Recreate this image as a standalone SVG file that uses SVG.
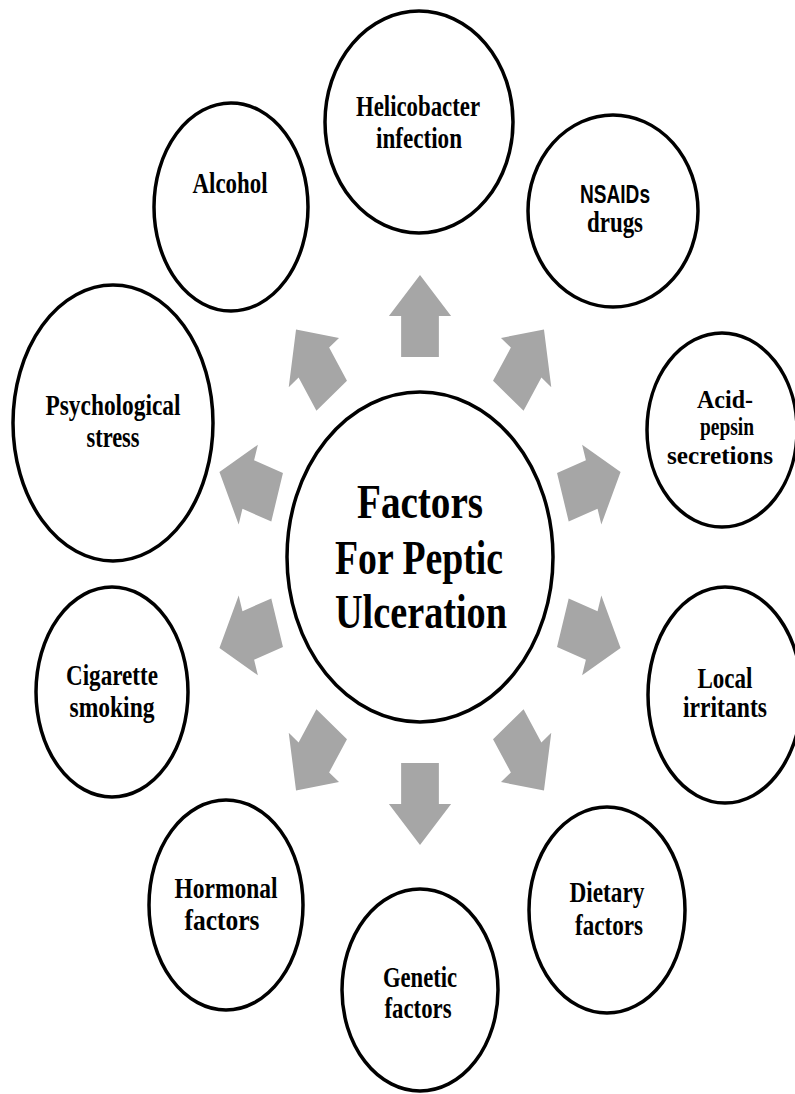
<svg xmlns="http://www.w3.org/2000/svg" xmlns:xlink="http://www.w3.org/1999/xlink" width="795" height="1094" viewBox="0 0 795 1094">
<style>
.node ellipse{fill:#fff;stroke:#000;stroke-width:3.5}
.t{font-family:"Liberation Serif","Times New Roman",serif;font-weight:bold;font-size:29px;fill:#000;text-anchor:middle}
.big{font-size:48px}
.sm{font-size:25px}
.s{font-family:"Liberation Sans",Arial,sans-serif;font-size:25px}
.arrow{fill:#a6a6a6}
</style>
<defs>
<polygon id="arr" points="-25.5,41 25.5,41 25.5,0 42,0 0,-41 -42,0 -25.5,0"/>
</defs>
<rect width="795" height="1094" fill="#fff"/>
<g id="connectors" class="arrow" transform="translate(420,560) scale(0.74,1)">
<use xlink:href="#arr" transform="rotate(0) translate(0,-244)"/>
<use xlink:href="#arr" transform="rotate(36) translate(0,-244)"/>
<use xlink:href="#arr" transform="rotate(72) translate(0,-244)"/>
<use xlink:href="#arr" transform="rotate(108) translate(0,-244)"/>
<use xlink:href="#arr" transform="rotate(144) translate(0,-244)"/>
<use xlink:href="#arr" transform="rotate(180) translate(0,-244)"/>
<use xlink:href="#arr" transform="rotate(216) translate(0,-244)"/>
<use xlink:href="#arr" transform="rotate(252) translate(0,-244)"/>
<use xlink:href="#arr" transform="rotate(288) translate(0,-244)"/>
<use xlink:href="#arr" transform="rotate(324) translate(0,-244)"/>
</g>
<g id="center" class="node">
<ellipse cx="420" cy="557" rx="133" ry="165"/>
<text class="t big" x="420" y="518" textLength="126" lengthAdjust="spacingAndGlyphs">Factors</text>
<text class="t big" x="419" y="574" textLength="168" lengthAdjust="spacingAndGlyphs">For Peptic</text>
<text class="t big" x="421" y="628" textLength="172" lengthAdjust="spacingAndGlyphs">Ulceration</text>
</g>
<g id="helicobacter" class="node">
<ellipse cx="419" cy="122" rx="94" ry="111"/>
<text class="t" x="418" y="116" textLength="124" lengthAdjust="spacingAndGlyphs">Helicobacter</text>
<text class="t" x="419" y="148" textLength="86" lengthAdjust="spacingAndGlyphs">infection</text>
</g>
<g id="nsaids" class="node">
<ellipse cx="613" cy="211" rx="85" ry="96"/>
<text class="t s" x="615" y="203" textLength="70" lengthAdjust="spacingAndGlyphs">NSAIDs</text>
<text class="t" x="615" y="232" textLength="56" lengthAdjust="spacingAndGlyphs">drugs</text>
</g>
<g id="acid" class="node">
<ellipse cx="722" cy="430" rx="75" ry="97"/>
<text class="t sm" x="725" y="408" textLength="56" lengthAdjust="spacingAndGlyphs">Acid-</text>
<text class="t sm" x="727" y="435" textLength="54" lengthAdjust="spacingAndGlyphs">pepsin</text>
<text class="t sm" x="720" y="464" textLength="106" lengthAdjust="spacingAndGlyphs">secretions</text>
</g>
<g id="local" class="node">
<ellipse cx="725" cy="695" rx="77" ry="108"/>
<text class="t" x="725" y="688" textLength="55" lengthAdjust="spacingAndGlyphs">Local</text>
<text class="t" x="725" y="717" textLength="84" lengthAdjust="spacingAndGlyphs">irritants</text>
</g>
<g id="dietary" class="node">
<ellipse cx="607" cy="910" rx="78" ry="103"/>
<text class="t" x="607" y="902" textLength="75" lengthAdjust="spacingAndGlyphs">Dietary</text>
<text class="t" x="609" y="935" textLength="68" lengthAdjust="spacingAndGlyphs">factors</text>
</g>
<g id="genetic" class="node">
<ellipse cx="420" cy="990" rx="78" ry="101"/>
<text class="t" x="420" y="987" textLength="74" lengthAdjust="spacingAndGlyphs">Genetic</text>
<text class="t" x="418" y="1018" textLength="67" lengthAdjust="spacingAndGlyphs">factors</text>
</g>
<g id="hormonal" class="node">
<ellipse cx="226" cy="905" rx="77" ry="105"/>
<text class="t" x="226" y="898" textLength="103" lengthAdjust="spacingAndGlyphs">Hormonal</text>
<text class="t" x="222" y="930" textLength="75" lengthAdjust="spacingAndGlyphs">factors</text>
</g>
<g id="cigarette" class="node">
<ellipse cx="112" cy="692" rx="76" ry="105"/>
<text class="t" x="112" y="685" textLength="92" lengthAdjust="spacingAndGlyphs">Cigarette</text>
<text class="t" x="112" y="717" textLength="85" lengthAdjust="spacingAndGlyphs">smoking</text>
</g>
<g id="psychological" class="node">
<ellipse cx="113" cy="423" rx="100" ry="138"/>
<text class="t" x="113" y="415" textLength="135" lengthAdjust="spacingAndGlyphs">Psychological</text>
<text class="t" x="113" y="447" textLength="53" lengthAdjust="spacingAndGlyphs">stress</text>
</g>
<g id="alcohol" class="node">
<ellipse cx="231" cy="207" rx="77" ry="104"/>
<text class="t" x="230" y="193" textLength="75" lengthAdjust="spacingAndGlyphs">Alcohol</text>
</g>
</svg>
